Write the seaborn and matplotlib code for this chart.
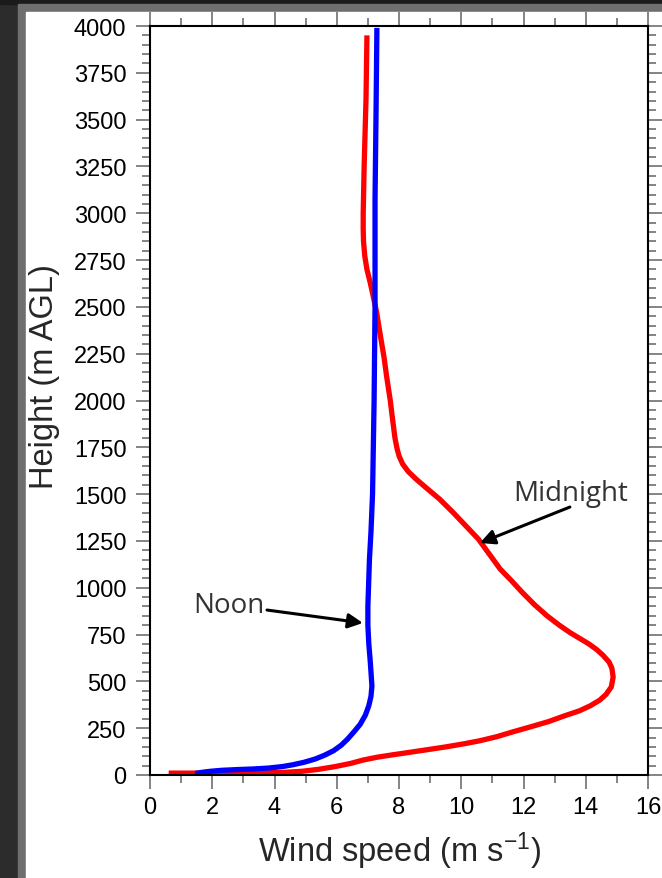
import numpy as np
import pandas as pd
import matplotlib
matplotlib.use('Agg')
import matplotlib.pyplot as plt
import seaborn as sns
from matplotlib.patches import Rectangle
from matplotlib.ticker import MultipleLocator

# Midnight profile (height in m AGL, wind speed in m/s)
midnight_height = [10, 10, 10, 11, 14, 20, 30, 45, 62, 80, 95, 108, 120, 135, 150, 167,
                   183, 205, 230, 256, 285, 315, 343, 370, 400, 430, 470, 523, 570,
                   603, 640, 670, 700, 730, 760, 800, 851, 910, 977, 1040, 1100, 1180,
                   1260, 1330, 1400, 1474, 1530, 1580, 1620, 1660, 1700, 1741, 1800,
                   1917, 2000, 2131, 2230, 2328, 2400, 2472, 2550, 2633, 2700, 2772,
                   2850, 2916, 3000, 3250, 3610, 3950]
midnight_speed = [0.6, 1.5, 2.5, 3.5, 4.3, 4.9, 5.4, 5.95, 6.45, 6.85, 7.3, 7.8, 8.3,
                  8.9, 9.5, 10.1, 10.6, 11.15, 11.65, 12.2, 12.8, 13.3, 13.8, 14.15,
                  14.45, 14.65, 14.82, 14.88, 14.84, 14.75, 14.55, 14.35, 14.1, 13.8,
                  13.5, 13.15, 12.75, 12.35, 11.95, 11.6, 11.25, 10.9, 10.55, 10.15,
                  9.75, 9.3, 8.9, 8.55, 8.3, 8.12, 8.01, 7.94, 7.87, 7.78, 7.72, 7.6,
                  7.52, 7.42, 7.35, 7.28, 7.18, 7.07, 6.97, 6.9, 6.86, 6.85, 6.85,
                  6.88, 6.94, 6.97]

# Noon profile
noon_height = [8, 15, 20, 25, 29, 32, 37, 45, 55, 68, 85, 105, 130, 160, 192, 230, 270,
               320, 370, 420, 475, 550, 620, 700, 800, 900, 1000, 1150, 1300, 1500,
               1600, 2000, 2500, 3076, 3500, 3990]
noon_speed = [1.45, 1.7, 1.95, 2.3, 2.8, 3.3, 3.8, 4.25, 4.6, 4.95, 5.3, 5.6, 5.9, 6.15,
              6.35, 6.55, 6.75, 6.92, 7.03, 7.1, 7.13, 7.1, 7.07, 7.03, 7.0, 7.0, 7.02,
              7.05, 7.1, 7.15, 7.16, 7.2, 7.23, 7.23, 7.26, 7.29]

df = pd.concat([
    pd.DataFrame({'height': midnight_height, 'speed': midnight_speed, 'time': 'Midnight'}),
    pd.DataFrame({'height': noon_height, 'speed': noon_speed, 'time': 'Noon'}),
], ignore_index=True)

sns.set_style('ticks')
plt.rcParams['font.family'] = ['Liberation Sans', 'DejaVu Sans']
plt.rcParams['mathtext.fontset'] = 'custom'
plt.rcParams['mathtext.rm'] = 'Liberation Sans'
plt.rcParams['mathtext.it'] = 'Liberation Sans:italic'

W, H = 662, 879
fig = plt.figure(figsize=(W / 100, H / 100), dpi=100, facecolor='#2c2c2c')

# slide-like frame around the chart
fig.patches.extend([
    Rectangle((0, (H - 5) / H), 1, 5 / H, transform=fig.transFigure, figure=fig,
              color='#1b1b1b', zorder=-3),
    Rectangle((18 / W, 0), 1, (H - 5) / H, transform=fig.transFigure, figure=fig,
              color='#6f6f6f', zorder=-2),
    Rectangle((26 / W, 0), 1, (H - 13) / H, transform=fig.transFigure, figure=fig,
              color='white', zorder=-1),
])

ax = fig.add_axes([150 / W, 103 / H, 498 / W, 749 / H])
ax.set_facecolor('white')

sns.lineplot(data=df, x='speed', y='height', hue='time', hue_order=['Midnight', 'Noon'],
             palette={'Midnight': '#ff0000', 'Noon': '#0000ff'}, sort=False,
             estimator=None, legend=False, lw=3.8, ax=ax)
for ln in ax.lines:
    ln.set_solid_capstyle('butt')
    ln.set_solid_joinstyle('round')

ax.set_xlim(0, 16)
ax.set_ylim(0, 4000)
ax.xaxis.set_major_locator(MultipleLocator(2))
ax.xaxis.set_minor_locator(MultipleLocator(1))
ax.yaxis.set_major_locator(MultipleLocator(250))
ax.yaxis.set_minor_locator(MultipleLocator(50))

for s in ax.spines.values():
    s.set_visible(True)
    s.set_color('black')
    s.set_linewidth(1.5)

ax.tick_params(which='both', direction='out', top=True, right=True,
               color='#707070', width=1.2, labelcolor='black')
ax.tick_params(which='major', length=10, labelsize=17)
ax.tick_params(axis='y', which='major', pad=7)
ax.tick_params(axis='x', which='major', pad=5)
ax.tick_params(which='minor', length=5.5)

ax.set_xlabel('Wind speed (m s$^{\\mathregular{-1}}$)', fontsize=23.5, va='center')
ax.xaxis.set_label_coords(0.5, -0.101)
ax.set_ylabel('Height (m AGL)', fontsize=23.5, va='center')
ax.yaxis.set_label_coords(-0.211, 0.533)

# annotations
ann_font = ['Open Sans', 'DejaVu Sans']
ax.text(2.54, 870, 'Noon', family=ann_font, fontsize=20, color='#333333',
        ha='center', va='baseline')
ax.annotate('', xy=(6.84, 812), xytext=(3.76, 881),
            arrowprops=dict(arrowstyle='-|>', color='black', lw=2.2, mutation_scale=22,
                            shrinkA=0, shrinkB=0))
ax.text(13.5, 1468, 'Midnight', family=ann_font, fontsize=20, color='#333333',
        ha='center', va='baseline')
ax.annotate('', xy=(10.6, 1239), xytext=(13.49, 1431),
            arrowprops=dict(arrowstyle='-|>', color='black', lw=2.2, mutation_scale=22,
                            shrinkA=0, shrinkB=0))

fig.savefig('out.png', dpi=100, facecolor=fig.get_facecolor())
